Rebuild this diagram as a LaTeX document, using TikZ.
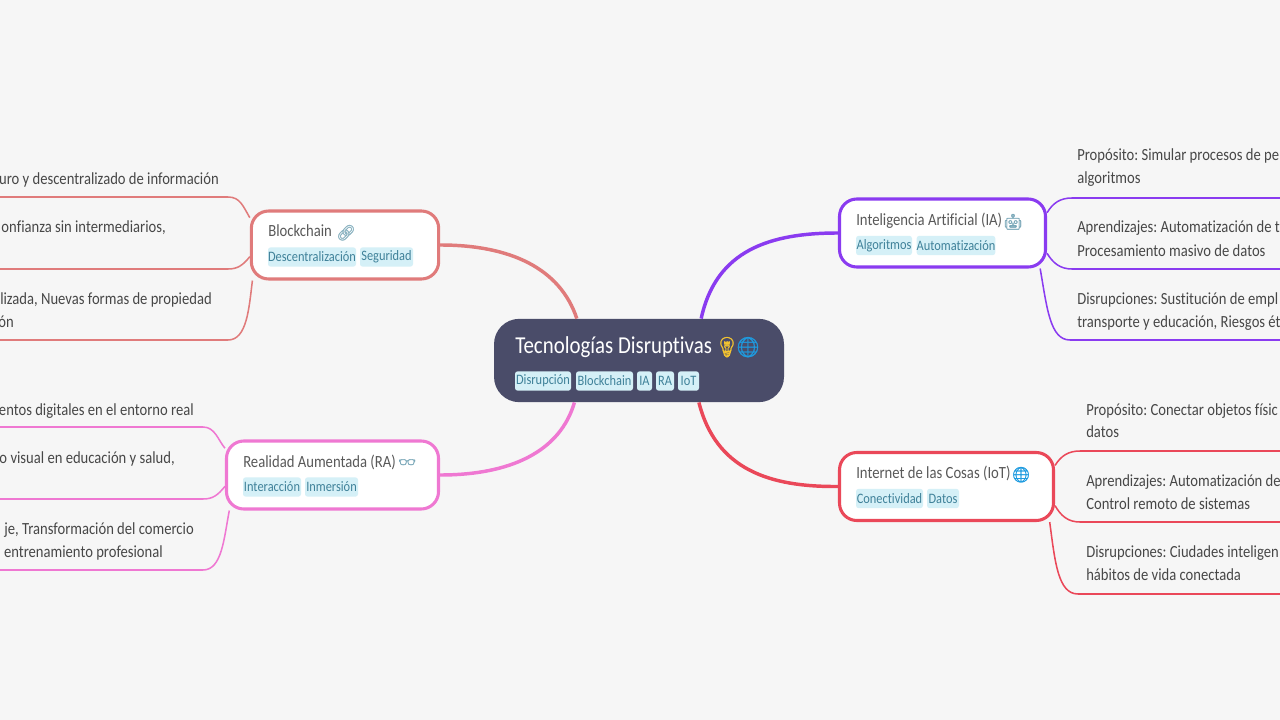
\documentclass[tikz,border=0pt]{standalone}
\usepackage{fontspec}
\setmainfont[FakeStretch=0.86,Ligatures={NoCommon,NoRare},Kerning=On]{Carlito}
\newfontfamily\emojifont[FakeBold=1.2]{Noto Emoji}
\frenchspacing
\definecolor{bgc}{HTML}{F6F6F6}
\definecolor{ctrc}{HTML}{4A4C69}
\definecolor{tagf}{HTML}{D5F0F7}
\definecolor{tagt}{HTML}{3F8199}
\definecolor{bcc}{HTML}{E07B7B}
\definecolor{rac}{HTML}{EF78D2}
\definecolor{iac}{HTML}{8A3BF0}
\definecolor{iotc}{HTML}{EA4859}
\definecolor{subt}{HTML}{595959}
\definecolor{leaft}{HTML}{474747}
\definecolor{bulbc}{HTML}{F4C430}
\definecolor{globec}{HTML}{1E9BE0}
\tikzset{
  x=0.75pt,y=-0.75pt,
  topicbox/.style={draw=#1,fill=white,line width=2.3pt,rounded corners=13pt,inner sep=0pt,minimum height=51pt},
  centerbox/.style={fill=ctrc,rounded corners=19pt,inner sep=0pt,minimum width=217.5pt,minimum height=62.5pt},
  tagbox/.style={fill=tagf,text=tagt,rounded corners=2pt,inner sep=0pt,minimum height=14.5pt,font=\fontsize{10.8pt}{12pt}\selectfont},
  titletext/.style={anchor=base west,inner sep=0pt,text=#1},
  subtext/.style={titletext=subt,font=\fontsize{12.8pt}{16pt}\selectfont},
  leaftext/.style={inner sep=0pt,text=leaft,font=\fontsize{12.75pt}{15pt}\selectfont},
  leafe/.style={leaftext,anchor=base east},
  leafw/.style={leaftext,anchor=base west},
  mainline/.style={draw=#1,line width=2.6pt},
  leafline/.style={draw=#1,line width=1.15pt}
}
\newcommand{\tagn}[6][]{\node[tagbox,minimum width={(#4-#3)*0.75pt}] (#2) at ({(#3+#4)/2},#5) {#6};}
\begin{document}
\begin{tikzpicture}
\useasboundingbox (0,0) rectangle (1280,720);
\clip (0,0) rectangle (1280,720);
\fill[bgc] (0,0) rectangle (1280,720);

% main nodes
\node[centerbox] (ctr) at (639,360.5) {};
\node[topicbox=bcc,minimum width=140.5pt] (bc) at (345,245) {};
\node[topicbox=rac,minimum width=159pt] (ra) at (332.5,475) {};
\node[topicbox=iac,minimum width=154.5pt] (ia) at (942.5,233) {};
\node[topicbox=iotc,minimum width=160.5pt] (iot) at (946.5,486.5) {};

% free ends of the leaf lines
\coordinate (bcA) at (0,197); \coordinate (bcB) at (0,269); \coordinate (bcC) at (0,340);
\coordinate (raA) at (0,427); \coordinate (raB) at (0,499); \coordinate (raC) at (0,570);
\coordinate (iaA) at (1280,198); \coordinate (iaB) at (1280,269); \coordinate (iaC) at (1280,340);
\coordinate (iotA) at (1280,451); \coordinate (iotB) at (1280,522); \coordinate (iotC) at (1280,594);

% main connectors
\draw[mainline=bcc] (bc.east) .. controls (510,245) and (560,268) .. (ctr.146.6);
\draw[mainline=rac] (ra.east) .. controls (510,475) and (560,452) .. (ctr.213.4);
\draw[mainline=iac] (ia.west) .. controls (770,233) and (716,250) .. (ctr.34.2);
\draw[mainline=iotc] (iot.west) .. controls (770,487) and (716,470) .. (ctr.325.8);

% leaf connectors
\draw[leafline=bcc] (bc.164.1) .. controls (243,206) and (240,197) .. (228,197) -- (bcA);
\draw[leafline=bcc] (bc.187.8) .. controls (243,265) and (238,269) .. (228,269) -- (bcB);
\draw[leafline=bcc] (bc.201.75) .. controls (249,308) and (247,340) .. (228,340) -- (bcC);
\draw[leafline=rac] (ra.166.4) .. controls (218,440) and (215,427) .. (203,427) -- (raA);
\draw[leafline=rac] (ra.186.9) .. controls (218,495) and (213,499) .. (203,499) -- (raB);
\draw[leafline=rac] (ra.199.3) .. controls (224,538) and (222,570) .. (203,570) -- (raC);
\draw[leafline=iac] (ia.11.4) .. controls (1053,203) and (1060,198) .. (1072,198) -- (iaA);
\draw[leafline=iac] (ia.-11.4) .. controls (1053,263) and (1060,269) .. (1072,269) -- (iaB);
\draw[leafline=iac] (ia.-20) .. controls (1047,308) and (1050,340) .. (1070,340) -- (iaC);
\draw[leafline=iotc] (iot.11.2) .. controls (1061,456) and (1068,451) .. (1080,451) -- (iotA);
\draw[leafline=iotc] (iot.-10.7) .. controls (1061,516) and (1068,522) .. (1080,522) -- (iotB);
\draw[leafline=iotc] (iot.-19.3) .. controls (1055,562) and (1058,594) .. (1078,594) -- (iotC);

% centre
\node[titletext=white,font=\fontsize{18.2pt}{22pt}\selectfont] (ctrT) at (515,353) {Tecnologías Disruptivas};
\node[titletext=bulbc,font=\fontsize{15pt}{18pt}\emojifont] (ctrE1) at (714,354) {💡};
\node[titletext=globec,font=\fontsize{15pt}{18pt}\emojifont] (ctrE2) at (735,354) {🌐};
\tagn{t1}{515}{571}{381}{Disrupción}
\tagn{t2}{576}{633}{381}{Blockchain}
\tagn{t3}{637}{652}{381}{IA}
\tagn{t4}{656}{674}{381}{RA}
\tagn{t5}{678}{699}{381}{IoT}

% blockchain
\node[subtext] (bcT) at (268,237) {Blockchain};
\node[titletext=tagt!60,font=\fontsize{11.5pt}{14pt}\emojifont] (bcE) at (336,238) {🔗};
\tagn{t6}{268}{356}{257}{Descentralización}
\tagn{t7}{360}{413}{257}{Seguridad}

% ra
\node[subtext] (raT) at (243,467) {Realidad Aumentada (RA)};
\node[titletext=tagt!70,font=\fontsize{10.5pt}{14pt}\emojifont] (raE) at (398,467) {👓};
\tagn{t8}{243}{301}{487}{Interacción}
\tagn{t9}{305}{358}{487}{Inmersión}

% ia
\node[subtext] (iaT) at (856,225) {Inteligencia Artificial (IA)};
\node[titletext=tagt!70,font=\fontsize{11.5pt}{14pt}\emojifont] (iaE) at (1003,227) {🤖};
\tagn{t10}{856}{912}{245.5}{Algoritmos}
\tagn{t11}{917}{995}{245.5}{Automatización}

% iot
\node[subtext] (iotT) at (856,478) {Internet de las Cosas (IoT)};
\node[titletext=globec,font=\fontsize{11.5pt}{14pt}\emojifont] (iotE) at (1011,480) {🌐};
\tagn{t12}{856}{923}{498.5}{Conectividad}
\tagn{t13}{927}{959}{498.5}{Datos}

% left leaf text
\node[leafe] (l1) at (219,185) {uro y descentralizado de información};
\node[leafe] (l2) at (166,233) {onfianza sin intermediarios,};
\node[leafe] (l3) at (212,304) {lizada, Nuevas formas de propiedad};
\node[leafe] (l4) at (14,327) {ón};
\node[leafe] (l5) at (194,415) {entos digitales en el entorno real};
\node[leafe] (l6) at (175,463) {o visual en educación y salud,};
\node[leafe] (l7) at (194,534) {je, Transformación del comercio};
\node[leafe] (l8) at (163,557) {entrenamiento profesional};

% right leaf text
\node[leafw] (r1) at (1077,161) {Propósito: Simular procesos de pe};
\node[leafw] (r2) at (1077,184) {algoritmos};
\node[leafw] (r3) at (1077,233) {Aprendizajes: Automatización de t};
\node[leafw] (r4) at (1077,256) {Procesamiento masivo de datos};
\node[leafw] (r5) at (1077,304) {Disrupciones: Sustitución de empl};
\node[leafw] (r6) at (1077,327) {transporte y educación, Riesgos ét};
\node[leafw] (r7) at (1086,415) {Propósito: Conectar objetos físic};
\node[leafw] (r8) at (1086,437) {datos};
\node[leafw] (r9) at (1086,486) {Aprendizajes: Automatización de};
\node[leafw] (r10) at (1086,509) {Control remoto de sistemas};
\node[leafw] (r11) at (1086,557) {Disrupciones: Ciudades inteligen};
\node[leafw] (r12) at (1086,580) {hábitos de vida conectada};
\end{tikzpicture}
\end{document}
